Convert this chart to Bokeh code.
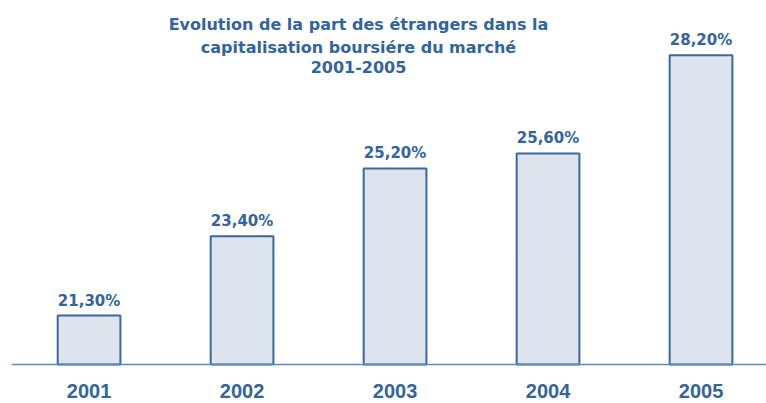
from bokeh.plotting import figure
from bokeh.models import Range1d, Label, ColumnDataSource, Span
from bokeh.core.properties import value
from bokeh.embed import file_html
from bokeh.resources import INLINE

years = ["2001", "2002", "2003", "2004", "2005"]
shares = [21.3, 23.4, 25.2, 25.6, 28.2]
share_labels = ["21,30%", "23,40%", "25,20%", "25,60%", "28,20%"]
title_lines = ["Evolution de la part des étrangers dans la",
               "capitalisation boursiére du marché",
               "2001-2005"]

TEXT = "#33649b"
BASE = 20
idx = list(range(len(years)))
src = ColumnDataSource(dict(x=idx, top=shares, lab=share_labels, year=years,
                            base=[BASE] * len(years)))

p = figure(width=766, height=403, output_backend="svg", toolbar_location=None,
           x_range=Range1d(-0.507, 4.428), y_range=Range1d(18.966, 29.655),
           min_border_left=11, min_border_right=0, min_border_top=0, min_border_bottom=0)
p.outline_line_color = None
p.grid.visible = False
p.axis.visible = False
p.background_fill_color = "white"
p.border_fill_color = "white"

p.vbar(x="x", top="top", bottom=BASE, width=0.41, source=src,
       fill_color="#dde4ee", line_color="#3b689e", line_width=2)
p.add_layout(Span(location=BASE, dimension="width", line_color="#5f87bb", line_width=1.5))

p.text(x="x", y="top", text="lab", source=src, text_align="center", text_baseline="alphabetic",
       y_offset=-15, text_font=value("DejaVu Sans"), text_font_style="bold",
       text_font_size="15px", text_color=TEXT)
p.text(x="x", y="base", text="year", source=src, text_align="center", text_baseline="alphabetic",
       y_offset=26, text_font=value("Liberation Sans"), text_font_style="bold",
       text_font_size="20px", text_color=TEXT)

for line, yv in zip(title_lines, [29.02, 28.41, 27.90]):
    p.add_layout(Label(x=1.761, y=yv, text=line, text_align="center", text_baseline="alphabetic",
                       text_font="DejaVu Sans", text_font_style="bold", text_font_size="16px",
                       text_color=TEXT))

open("out.html", "w").write(file_html(p, INLINE))
